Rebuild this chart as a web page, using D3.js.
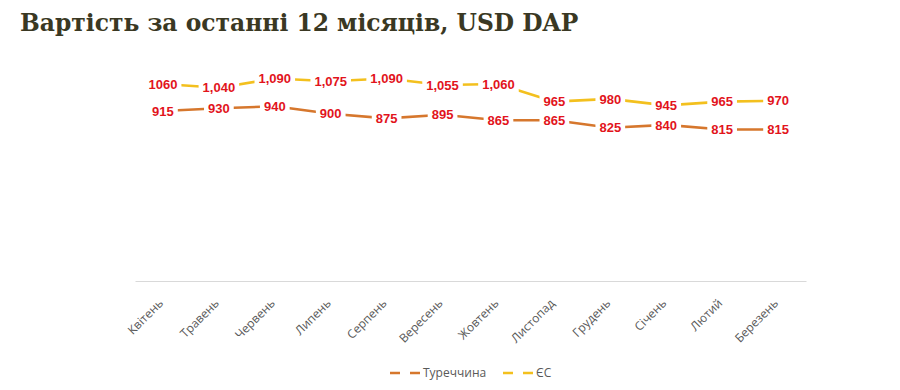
<!DOCTYPE html>
<html>
<head>
<meta charset="utf-8">
<script src="https://cdn.jsdelivr.net/npm/d3@7"></script>
<style>
  body { margin: 0; background: #fff; }
  svg { display: block; }
</style>
</head>
<body>
<script>
// chart data
var months = ["Квітень", "Травень", "Червень", "Липень", "Серпень", "Вересень",
              "Жовтень", "Листопад", "Грудень", "Січень", "Лютий", "Березень"];
var turkey = [915, 930, 940, 900, 875, 895, 865, 865, 825, 840, 815, 815];
var eu     = [1060, 1040, 1090, 1075, 1090, 1055, 1060, 965, 980, 945, 965, 970];
var euLabels = ["1060", "1,040", "1,090", "1,075", "1,090", "1,055", "1,060",
                "965", "980", "945", "965", "970"];
var seriesNames = ["Туреччина", "ЄС"];

var width = 900, height = 390;
var plot = {left: 135, right: 806, top: 58, bottom: 281};

var LABEL_FONT = "'Liberation Sans', Arial, sans-serif";
var AXIS_FONT = "'Open Sans', 'Noto Sans', sans-serif";
var colours = ["#d6772d", "#f3c01e"];

var svg = d3.select("body").append("svg")
    .attr("width", width)
    .attr("height", height);

// title
svg.append("text")
    .attr("x", 20)
    .attr("y", 31)
    .attr("font-family", "'DejaVu Serif', serif")
    .attr("font-weight", "bold")
    .attr("font-size", 23.4)
    .attr("fill", "#3a3823")
    .text("Вартість за останні 12 місяців, USD DAP");

var x = d3.scaleBand()
    .domain(months)
    .range([plot.left, plot.right]);

var y = d3.scaleLinear()
    .domain([0, 1200])
    .range([plot.bottom, plot.top]);

function cx(d, i) { return x(months[i]) + x.bandwidth() / 2; }

// x axis
var xAxis = svg.append("g")
    .attr("transform", "translate(0," + plot.bottom + ")")
    .call(d3.axisBottom(x).tickSize(0).tickPadding(0));

xAxis.select(".domain")
    .attr("stroke", "#d9d9d9")
    .attr("stroke-width", 1.2);

xAxis.selectAll("text")
    .attr("font-family", AXIS_FONT)
    .attr("font-size", 12)
    .attr("fill", "#595959")
    .attr("text-anchor", "end")
    .attr("dy", 0)
    .attr("transform", "translate(1,23) rotate(-45)");

var line = d3.line()
    .x(cx)
    .y(function(d) { return y(d); });

var all = [
    {values: turkey, labels: turkey.map(String), colour: colours[0]},
    {values: eu, labels: euLabels, colour: colours[1]}
];

all.forEach(function(s) {
    svg.append("path")
        .datum(s.values)
        .attr("fill", "none")
        .attr("stroke", s.colour)
        .attr("stroke-width", 2.6)
        .attr("stroke-linejoin", "round")
        .attr("d", line);
});

// data labels with white boxes
all.forEach(function(s) {
    var g = svg.append("g");
    s.values.forEach(function(v, i) {
        var lx = cx(v, i), ly = y(v);
        var box = g.append("rect").attr("fill", "#fff");
        var t = g.append("text")
            .attr("x", lx)
            .attr("y", ly)
            .attr("dy", "0.36em")
            .attr("text-anchor", "middle")
            .attr("font-family", LABEL_FONT)
            .attr("font-weight", "bold")
            .attr("font-size", 13)
            .attr("fill", "#e2141c")
            .text(s.labels[i]);
        var bb = t.node().getBBox();
        box.attr("x", bb.x - 4)
            .attr("y", bb.y - 1)
            .attr("width", bb.width + 8)
            .attr("height", bb.height + 2);
    });
});

// legend
var legend = svg.append("g").attr("transform", "translate(0,373)");
var legendX = [390, 503];
seriesNames.forEach(function(name, i) {
    var lg = legend.append("g").attr("transform", "translate(" + legendX[i] + ",0)");
    lg.append("line")
        .attr("x1", 0).attr("x2", 31)
        .attr("stroke", colours[i])
        .attr("stroke-width", 2.6)
        .attr("stroke-dasharray", "10,10");
    lg.append("text")
        .attr("x", 33)
        .attr("dy", "0.35em")
        .attr("font-family", AXIS_FONT)
        .attr("font-size", 12)
        .attr("fill", "#595959")
        .text(name);
});
</script>
</body>
</html>
